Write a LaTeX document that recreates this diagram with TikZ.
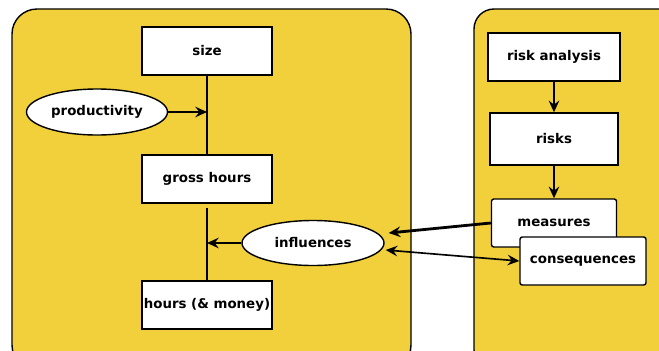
\documentclass[tikz,border=0pt]{standalone}
\usepackage{fontspec}
\setmainfont{DejaVu Sans}
\usepackage{xcolor}
\usetikzlibrary{arrows.meta, positioning, shapes.geometric, calc}

\definecolor{panelyellow}{RGB}{242,208,60}

\begin{document}
\begin{tikzpicture}[
  x=0.03cm, y=-0.03cm,
  % Panels and boxes
  panel/.style={draw, line width=1.2pt, fill=panelyellow},
  basebox/.style={draw, fill=white, line width=1.2pt, minimum height=1.44cm, inner sep=1pt, font=\fontsize{11.4}{13}\selectfont\bfseries},
  sizebox/.style={basebox, minimum width=3.9cm},
  riskbox/.style={basebox, minimum width=3.8cm, rounded corners=2pt},
  bubble/.style={ellipse, draw, fill=white, line width=1.2pt, inner sep=0pt, font=\fontsize{11.4}{13}\selectfont\bfseries},
  link/.style={line width=2pt},
  flow/.style={line width=2pt, -{Stealth[length=10pt, width=9pt, inset=3.5pt]}},
  both/.style={line width=1.4pt, {Stealth[length=10pt, width=9pt, inset=3.5pt]}-{Stealth[length=10pt, width=9pt, inset=3.5pt]}}
]

  \useasboundingbox (0,0) rectangle (659,350);
  \clip (0,0) rectangle (659,350);

  % Panels
  \draw[panel, rounded corners=0.75cm] (12,9) rectangle (411,370);
  \draw[panel, rounded corners=0.6cm] (474,9) rectangle (690,370);

  % Left column
  \node[sizebox] (size) at (207,51) {size};
  \node[sizebox] (gross) at (207,179) {gross hours};
  \node[sizebox] (hours) at (207,305) {hours (\& money)};
  \node[bubble, minimum width=4.23cm, minimum height=1.38cm] (prod) at (97,112) {productivity};
  \node[bubble, minimum width=4.26cm, minimum height=1.35cm] (infl) at (313,243) {influences};

  % Right column
  \node[basebox, minimum width=3.96cm] (analysis) at (554,57) {risk analysis};
  \node[basebox, minimum width=3.84cm, minimum height=1.56cm] (risks) at (554,139) {risks};
  \node[riskbox, minimum width=3.75cm] (measures) at (554,223) {measures};
  \node[riskbox, minimum width=3.78cm] (conseq) at (583,261) {consequences};

  % Helper points on the vertical lines and beside the bubble
  \coordinate (gap) at ($(gross.south)+(0,4)$);
  \coordinate (pjoin) at (prod.east -| size.south);
  \coordinate (ijoin) at (infl.west -| gross.south);
  \coordinate (inup) at ($(infl.east)+(4,-10)$);
  \coordinate (indown) at ($(infl.east)+(1,7)$);

  % Connectors
  \draw[link] (size.south) -- (gross.north);
  \draw[link] (gap) -- (hours.north);
  \draw[flow] (prod.east) -- (pjoin);
  \draw[flow] (infl.west) -- (ijoin);
  \draw[flow] (analysis.south) -- (risks.north);
  \draw[flow] (risks.south) -- (measures.north);
  \draw[flow, line width=2.4pt] (measures.west) -- (inup);
  \draw[both] (indown) -- (conseq.west);

\end{tikzpicture}
\end{document}
